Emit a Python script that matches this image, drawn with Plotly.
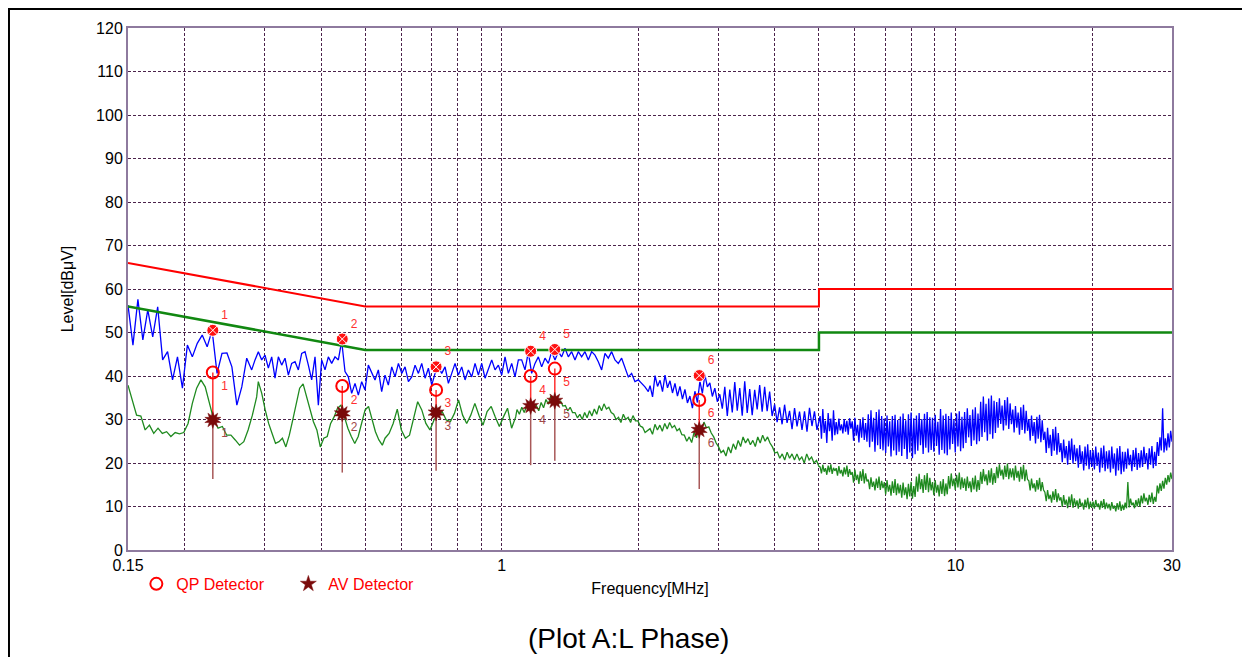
import numpy as np
import plotly.graph_objects as go

# ---------------- measured sweep (peak detector, blue) ----------------
# each segment: (start MHz, end MHz) and values read off the chart (dBuV)
BLUE_SEG1_F = (0.150, 0.281)
BLUE_SEG1 = [56.3, 47.1, 57.6, 48.3, 55.2, 49.0, 55.9, 43.7, 45.6, 39.1, 44.4, 37.2, 47.1,
             44.4, 47.5, 49.4, 46.7, 50.5, 40.6, 45.2, 45.3, 42.1, 33.3, 37.5, 44.1, 41.4]
BLUE_SEG2_F = (0.2858, 0.5622)
BLUE_SEG2 = [43.7, 45.6, 43.7, 44.8, 41.8, 44.4, 39.5, 44.4, 42.5, 44.1,
             40.2, 42.9, 43.3, 41.4, 45.2, 45.6, 42.5, 39.1, 44.4, 33.3,
             43.7, 41.4, 44.4, 42.9, 44.4, 43.7, 48.0, 41.0, 39.8, 36.0,
             38.3, 35.6, 38.7, 36.8, 42.5, 40.6, 39.1, 41.4, 36.4, 40.2, 37.9]
BLUE_SEG3_F = (0.572, 1.0876)
BLUE_SEG3 = [42.1, 39.8, 42.9, 40.6, 42.1, 38.7, 39.8, 42.5, 40.6, 42.9,
             39.5, 41.8, 37.9, 40.6, 42.1, 40.6, 42.1, 38.3, 40.6, 42.9,
             40.2, 42.1, 39.1, 41.4, 39.8, 42.9, 40.2, 42.9, 39.5, 41.4,
             43.7, 41.4, 42.5, 40.2, 44.4, 40.6, 42.9, 39.8, 43.7]
BLUE_SEG4_F = (1.106, 2.103)
BLUE_SEG4 = [43.7, 41.4, 45.5, 40.6, 42.9, 44.4, 42.1, 44.1, 42.9, 45.6,
             43.7, 45.6, 44.4, 46.4, 44.4, 45.6, 43.7, 45.6, 44.4, 45.6,
             43.7, 45.6, 44.8, 43.3, 41.4, 45.2, 44.1, 45.6, 43.7, 42.9,
             44.1, 41.8, 39.8, 40.6, 38.7, 39.1, 38.3, 37.5, 36.4]
BLUE_SEG5_F = (2.122, 4.95)
BLUE_SEG5 = [37.8, 35.2, 40.1, 37.6, 39.0, 36.4, 40.2, 37.3, 38.9, 36.1,
             38.3, 35.4, 37.6, 34.7, 36.9, 33.8, 35.4, 32.6, 36.5, 33.9,
             38.8, 36.0, 40.3, 37.5, 38.4, 35.3, 37.2, 34.1, 35.8, 32.5,
             37.5, 30.8, 36.9, 31.6, 38.6, 32.0, 37.2, 30.9, 38.8, 31.5,
             37.0, 31.0, 36.8, 32.3, 37.9, 31.8, 37.5, 31.9, 36.4, 30.8,
             33.5, 29.4, 32.8, 28.9, 33.4, 29.2, 32.0, 27.8, 32.6, 28.4,
             31.8, 27.6, 31.9, 27.2, 32.7, 28.5, 31.9, 27.6]
BLUE_SEG6_F = (5.03, 30.0)
BLUE_SEG6 = [30.8, 25.6, 32.4, 26.9, 29.7, 24.6, 31.5, 27.3, 30.2, 25.1, 32.1, 26.4,
             29.4, 26.6, 30.2, 27.5, 28.9, 26.8, 30.1, 27.2, 29.7, 26.5, 30.3, 27.9,
             29.6, 25.1, 30.4, 26.3, 28.8, 24.7, 29.9, 25.8, 30.5, 25.3, 29.2, 24.9,
             31.2, 23.6, 32.1, 24.9, 30.4, 22.6, 31.7, 24.1, 32.3, 23.2, 30.8, 22.9,
             30.2, 22.3, 30.9, 23.8, 29.6, 21.5, 30.8, 22.9, 31.1, 21.8, 29.9, 22.6,
             30.7, 21.6, 31.4, 23.2, 29.8, 20.9, 31.2, 22.4, 31.6, 21.1, 30.3, 22.0,
             30.9, 22.8, 31.5, 24.1, 30.1, 22.1, 31.3, 23.5, 31.7, 22.4, 30.5, 23.0,
             30.4, 22.6, 31.1, 23.9, 29.5, 21.9, 32.4, 23.0, 30.9, 22.2, 31.3, 21.8,
             30.8, 23.1, 31.6, 24.4, 30.0, 22.4, 31.4, 23.8, 31.9, 22.7, 30.6, 23.4,
             31.7, 24.6, 32.6, 25.9, 31.0, 23.9, 32.3, 25.2, 32.8, 24.3, 31.4, 25.0,
             34.1, 26.0, 35.3, 27.1, 33.6, 25.1, 34.8, 26.6, 35.5, 25.6, 34.3, 26.9,
             34.0, 28.1, 34.9, 29.0, 33.2, 27.5, 34.5, 28.6, 35.1, 27.8, 33.7, 28.9,
             32.3, 27.0, 33.1, 28.1, 31.6, 26.5, 32.8, 27.6, 33.4, 26.8, 32.0, 27.4,
             30.1, 25.1, 30.9, 26.2, 29.4, 24.5, 30.6, 25.6, 31.1, 24.8, 29.8, 25.3,
             27.2, 22.3, 28.1, 23.4, 26.5, 21.6, 27.8, 22.8, 28.3, 21.9, 26.9, 22.5,
             24.6, 20.2, 25.4, 21.1, 23.9, 19.6, 25.1, 20.7, 25.6, 19.9, 24.2, 20.4,
             23.4, 18.9, 24.1, 19.8, 22.7, 18.3, 23.8, 19.4, 24.3, 18.6, 23.0, 19.1,
             23.0, 18.5, 23.8, 19.3, 22.4, 17.8, 23.5, 18.9, 24.0, 18.1, 22.7, 18.7,
             22.9, 17.8, 23.8, 18.7, 22.2, 17.1, 23.4, 18.3, 23.9, 17.4, 22.6, 18.0,
             22.6, 18.7, 23.3, 19.5, 21.9, 18.1, 23.0, 19.1, 23.5, 18.4, 22.3, 18.9,
             22.9, 19.1, 23.7, 19.9, 22.3, 18.5, 23.4, 19.6, 23.9, 18.8, 22.6, 19.3,
             24.8, 21.6, 25.9, 22.9, 32.6, 22.4, 25.7, 22.9, 26.8, 23.6, 27.4, 24.9]

# ---------------- measured sweep (average detector, green) ----------------
GREEN_SEG1_F = (0.150, 0.2882)
GREEN_SEG1 = [37.9, 34.5, 31.0, 30.8, 27.6, 28.7, 26.8, 28.0, 26.8, 27.2, 26.1, 27.0, 26.7,
              27.0, 29.1, 33.7, 37.2, 39.1, 37.5, 33.7, 29.9, 28.0, 28.4, 26.4, 26.4, 25.3,
              24.1, 24.9, 27.6, 31.0, 35.2]
GREEN_SEG2_F = (0.2906, 0.5453)
GREEN_SEG2 = [38.7, 36.0, 32.2, 29.1, 26.8, 24.5, 24.9, 25.7, 23.7, 26.4, 29.9, 33.7, 37.2,
              38.2, 35.2, 32.2, 29.5, 27.6, 23.7, 25.7, 26.1, 29.1, 30.6, 32.6, 33.3, 30.6,
              28.0, 26.1, 24.5, 26.1, 29.1, 32.2, 33.0, 29.9, 27.2, 25.3, 24.1]
GREEN_SEG3_F = (0.5528, 1.073)
GREEN_SEG3 = [25.7, 26.8, 29.1, 32.4, 27.6, 25.7, 26.4, 30.6, 34.1, 32.2, 29.1, 27.6, 29.9,
              31.4, 31.8, 29.9, 29.5, 31.4, 34.5, 31.0, 29.1, 31.0, 33.7, 31.0, 28.7, 31.8,
              33.0, 30.6, 28.4, 30.6, 32.6, 28.0, 30.6]
GREEN_SEG4_F = (1.08, 2.069)
GREEN_SEG4 = [32.3, 31.2, 32.8, 31.6, 33.1, 32.0, 33.9, 32.7, 33.2, 32.0,
              33.9, 32.7, 34.6, 33.5, 35.4, 34.3, 34.7, 33.5, 34.3, 33.1,
              33.2, 32.0, 32.8, 31.6, 31.6, 30.4, 31.2, 30.0, 31.6, 30.4,
              32.0, 30.8, 32.4, 31.2, 33.2, 32.0, 33.6, 32.4, 32.8, 31.6,
              31.2, 30.0, 30.5, 29.3, 31.2, 30.0, 30.5, 29.3, 30.9, 29.7,
              29.7, 28.5, 28.2, 27.0]
GREEN_SEG5_F = (2.122, 5.0)
GREEN_SEG5 = [27.9, 26.6, 28.9, 27.6, 28.7, 27.3, 29.1, 27.8, 29.3, 28.1,
              28.6, 27.4, 27.9, 26.5, 26.4, 25.0, 26.0, 24.7, 27.1, 25.8,
              28.7, 27.4, 29.4, 28.1, 28.3, 26.9, 26.0, 24.6, 23.7, 22.4,
              22.9, 21.6, 23.7, 22.3, 24.4, 23.1, 25.2, 23.8, 26.0, 24.6,
              25.6, 24.2, 25.2, 23.8, 26.0, 24.6, 26.4, 25.0, 26.0, 24.6,
              23.7, 22.3, 22.5, 21.1, 22.1, 20.7, 22.5, 21.1, 22.1, 20.7,
              22.1, 20.7, 21.4, 20.0, 22.1, 20.7, 21.4, 20.0, 20.6, 19.2]
GREEN_SEG6_F = (5.03, 30.0)
GREEN_SEG6 = [19.1, 17.6, 19.6, 18.0, 18.8, 17.3, 19.4, 17.9, 19.7, 17.5, 18.9, 18.2,
              18.8, 17.1, 19.3, 17.6, 18.4, 16.9, 19.0, 17.4, 19.4, 16.8, 18.6, 17.3,
              17.9, 15.5, 18.5, 16.1, 17.3, 15.2, 18.1, 15.9, 18.6, 15.3, 17.6, 15.8,
              16.2, 14.0, 16.7, 14.5, 15.7, 13.7, 16.4, 14.3, 16.9, 13.8, 15.9, 14.2,
              15.6, 12.8, 16.1, 13.4, 15.0, 12.5, 15.8, 13.1, 16.3, 12.6, 15.3, 13.0,
              15.0, 12.0, 15.5, 12.6, 14.4, 11.7, 15.2, 12.3, 15.7, 11.8, 14.7, 12.2,
              16.9, 13.4, 17.5, 14.0, 16.3, 13.1, 17.2, 13.8, 17.7, 13.3, 16.6, 13.7,
              15.6, 12.6, 16.1, 13.2, 15.0, 12.3, 15.8, 12.9, 16.3, 12.4, 15.3, 12.8,
              17.0, 14.1, 17.6, 14.7, 16.4, 13.8, 17.3, 14.4, 17.8, 13.9, 16.7, 14.3,
              16.4, 13.6, 16.9, 14.2, 15.8, 13.3, 16.6, 13.9, 17.1, 13.4, 16.1, 13.8,
              18.0, 15.2, 18.6, 15.8, 17.4, 14.9, 18.3, 15.5, 18.8, 15.0, 17.7, 15.4,
              19.1, 16.5, 19.7, 17.1, 18.5, 16.2, 19.4, 16.8, 19.9, 16.3, 18.8, 16.7,
              18.8, 16.0, 19.4, 16.6, 18.2, 15.7, 19.1, 16.3, 19.6, 15.8, 18.5, 16.2,
              15.9, 13.7, 16.4, 14.2, 15.3, 13.4, 16.1, 13.9, 16.6, 13.5, 15.6, 13.8,
              13.3, 11.2, 13.8, 11.7, 12.7, 10.9, 13.5, 11.5, 14.0, 11.0, 13.0, 11.4,
              12.1, 9.9, 12.6, 10.4, 11.6, 9.6, 12.3, 10.2, 12.8, 9.7, 11.9, 10.1,
              11.4, 9.5, 11.8, 10.0, 10.9, 9.3, 11.6, 9.8, 12.0, 9.4, 11.1, 9.7,
              11.1, 9.5, 11.5, 9.9, 10.7, 9.3, 11.3, 9.7, 11.7, 9.4, 10.9, 9.6,
              10.6, 9.1, 11.0, 9.5, 10.2, 8.9, 10.8, 9.3, 11.2, 9.0, 10.4, 9.2,
              10.9, 9.6, 15.6, 9.8, 11.8, 10.3, 10.9, 9.6, 11.5, 10.0, 11.9, 9.9,
              12.5, 10.7, 13.0, 11.2, 12.0, 10.4, 12.7, 11.0, 13.2, 10.6, 12.2, 11.1,
              14.8, 13.0, 15.3, 13.6, 15.9, 14.1, 16.6, 15.0, 17.2, 15.6, 17.8, 16.3]

# ---------------- limit lines ----------------
LIMIT_F = [0.15, 0.5, 5.0, 5.0, 30.0]
QP_LIMIT = [66, 56, 56, 60, 60]
AV_LIMIT = [56, 46, 46, 50, 50]

# ---------------- final measurement markers ----------------
MK_LABELS = ["1", "2", "3", "4", "5", "6"]
MK_FREQ = [0.2307, 0.4450, 0.7164, 1.1577, 1.3086, 2.7235]
MK_PEAK = [50.5, 48.5, 42.1, 45.7, 46.1, 40.1]
MK_QP = [40.8, 37.7, 36.8, 40.0, 41.7, 34.5]
MK_AV = [29.9, 31.4, 31.6, 33.1, 34.3, 27.6]
MK_LOW = [16.3, 17.8, 18.2, 19.5, 20.5, 14.0]

# axis ticks
TICK_VALS = [0.15, 0.2, 0.3, 0.4, 0.5, 0.6, 0.7, 0.8, 0.9, 1, 2, 3, 4, 5, 6, 7, 8, 9, 10, 20, 30]
TICK_TEXT = ["0.15", "", "", "", "", "", "", "", "", "1", "", "", "", "", "", "", "", "", "10", "", "30"]


def build(segs):
    fs, vs = [], []
    for (f0, f1), vals in segs:
        fs.extend(np.geomspace(f0, f1, len(vals)).tolist())
        vs.extend(vals)
    return fs, vs


blue_f, blue_v = build([(BLUE_SEG1_F, BLUE_SEG1), (BLUE_SEG2_F, BLUE_SEG2), (BLUE_SEG3_F, BLUE_SEG3),
                        (BLUE_SEG4_F, BLUE_SEG4), (BLUE_SEG5_F, BLUE_SEG5), (BLUE_SEG6_F, BLUE_SEG6)])
green_f, green_v = build([(GREEN_SEG1_F, GREEN_SEG1), (GREEN_SEG2_F, GREEN_SEG2), (GREEN_SEG3_F, GREEN_SEG3),
                          (GREEN_SEG4_F, GREEN_SEG4), (GREEN_SEG5_F, GREEN_SEG5), (GREEN_SEG6_F, GREEN_SEG6)])

fig = go.Figure()

fig.add_trace(go.Scatter(x=green_f, y=green_v, mode="lines", line=dict(color="#1f8a1f", width=1.3),
                         showlegend=False, hoverinfo="skip"))
fig.add_trace(go.Scatter(x=blue_f, y=blue_v, mode="lines", line=dict(color="#0000ff", width=1.3),
                         showlegend=False, hoverinfo="skip"))

fig.add_trace(go.Scatter(x=LIMIT_F, y=QP_LIMIT, mode="lines", line=dict(color="#ff0000", width=2),
                         showlegend=False))
fig.add_trace(go.Scatter(x=LIMIT_F, y=AV_LIMIT, mode="lines", line=dict(color="#118811", width=2.5),
                         showlegend=False))

# stems
sx_hi, sy_hi, sx_lo, sy_lo = [], [], [], []
for f, q, a, lo in zip(MK_FREQ, MK_QP, MK_AV, MK_LOW):
    sx_hi += [f, f, None]
    sy_hi += [q, a, None]
    sx_lo += [f, f, None]
    sy_lo += [a, lo, None]
fig.add_trace(go.Scatter(x=sx_lo, y=sy_lo, mode="lines", line=dict(color="#a85858", width=1.5),
                         showlegend=False))
fig.add_trace(go.Scatter(x=sx_hi, y=sy_hi, mode="lines", line=dict(color="#ff3030", width=1.5),
                         showlegend=False))

# peak markers
fig.add_trace(go.Scatter(x=MK_FREQ, y=MK_PEAK, mode="markers+text", text=MK_LABELS,
                         textposition="top right", textfont=dict(color="#ff3030", size=12, family="Arial"),
                         marker=dict(symbol="circle-x", size=12, color="#ff1010",
                                     line=dict(color="#ffffff", width=1)),
                         showlegend=False))
# QP markers
fig.add_trace(go.Scatter(x=MK_FREQ, y=MK_QP, mode="markers+text", text=MK_LABELS,
                         textposition="bottom right", textfont=dict(color="#ff3030", size=12, family="Arial"),
                         marker=dict(symbol="circle-open", size=12, color="#ff0000", line=dict(width=2)),
                         name="QP Detector"))
# AV markers (burst = two overlaid stars)
fig.add_trace(go.Scatter(x=MK_FREQ, y=MK_AV, mode="markers",
                         marker=dict(symbol="star", size=12, color="#7a0a0a", angle=36,
                                     line=dict(color="#7a0a0a", width=0.5)),
                         showlegend=False))
fig.add_trace(go.Scatter(x=MK_FREQ, y=MK_AV, mode="markers+text", text=MK_LABELS,
                         textposition="bottom right", textfont=dict(color="#a04848", size=12, family="Arial"),
                         marker=dict(symbol="star", size=12, color="#7a0a0a",
                                     line=dict(color="#7a0a0a", width=0.5)),
                         name="AV Detector"))

grid = dict(showgrid=True, gridcolor="#4b234b", gridwidth=1, griddash="3px,2px",
            showline=True, linecolor="#8e7a9e", linewidth=2, mirror=True, ticks="", zeroline=False,
            tickfont=dict(family="Arial", size=16, color="#000000"))

fig.update_layout(
    width=1242, height=649,
    margin=dict(l=120, r=78, t=20, b=107),
    paper_bgcolor="#ffffff", plot_bgcolor="#ffffff",
    font=dict(family="Arial", color="#000000"),
    xaxis=dict(type="log", range=[np.log10(0.15), np.log10(30)], tickvals=TICK_VALS, ticktext=TICK_TEXT,
               title=dict(text="Frequency[MHz]", font=dict(size=16), standoff=10), **grid),
    yaxis=dict(range=[0, 120], dtick=10, tick0=0,
               title=dict(text="Level[dBμV]", font=dict(size=16), standoff=18), **grid),
    legend=dict(orientation="h", x=0.008, y=-0.065, xanchor="left", yanchor="middle",
                font=dict(family="Arial", size=16, color="#ff0000"), bgcolor="rgba(0,0,0,0)",
                entrywidth=107, entrywidthmode="pixels"),
    showlegend=True,
)

fig.add_annotation(text="(Plot A:L Phase)", xref="paper", yref="paper", x=0.479, y=-0.1686,
                   showarrow=False, font=dict(family="Arial", size=28, color="#000000"),
                   xanchor="center", yanchor="middle")

# outer page frame (paper coordinates)
fig.add_shape(type="rect", xref="paper", yref="paper", x0=-0.1140, x1=1.0700, y0=-0.25, y1=1.0364,
              line=dict(color="#000000", width=2), layer="below")

fig.write_html("out.html")
